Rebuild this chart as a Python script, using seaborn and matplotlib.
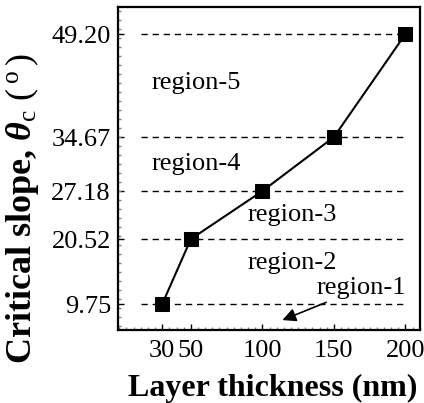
import numpy as np
import pandas as pd
import matplotlib
matplotlib.use("Agg")
import matplotlib.pyplot as plt
import seaborn as sns

# datos
espesor = [30, 50, 100, 150, 200]             # nm
pendiente = [9.75, 20.52, 27.18, 34.67, 49.20]  # grados
regiones = ["region-1", "region-2", "region-3", "region-4", "region-5"]
xticks = [30, 50, 100, 150, 200]

# escala del eje y de la figura original (no es lineal)
y_nodos = [5.45, 9.75, 20.52, 27.18, 34.67, 49.20, 53.0]
y_frac = [0.0, 0.0805, 0.2817, 0.4303, 0.5975, 0.9164, 1.0]


def adelante(v):
    return np.interp(v, y_nodos, y_frac)


def inversa(p):
    return np.interp(p, y_frac, y_nodos)


sns.set_style("ticks")
plt.rcParams["font.family"] = ["Liberation Serif", "DejaVu Serif"]
plt.rcParams["mathtext.fontset"] = "custom"
plt.rcParams["mathtext.rm"] = "Liberation Serif"
plt.rcParams["mathtext.it"] = "Liberation Serif:italic"
plt.rcParams["mathtext.bf"] = "Liberation Serif:bold"
plt.rcParams["mathtext.bfit"] = "Liberation Serif:italic:bold"
for k in ["text.color", "axes.labelcolor", "xtick.color", "ytick.color", "axes.edgecolor"]:
    plt.rcParams[k] = "black"

df = pd.DataFrame({"espesor": espesor, "pendiente": pendiente})

fig = plt.figure(figsize=(4.24, 4.03), dpi=100)
ax = fig.add_axes([0.278, 0.181, 0.712, 0.8015])
ax.set_yscale("function", functions=(adelante, inversa))

# lineas discontinuas de cada region
ax.hlines(pendiente, 15, 200, colors="k", linestyles=(0, (4.5, 3.5)), lw=1.0, zorder=1)

sns.lineplot(data=df, x="espesor", y="pendiente", ax=ax, color="k", lw=1.5,
             marker="s", markersize=10, markeredgecolor="k", zorder=3)

ax.set_xlim(-1, 210)
ax.set_ylim(y_nodos[0], y_nodos[-1])
ax.set_xticks(xticks)
ax.set_xticks(np.arange(0, 211, 5), minor=True)
ax.set_yticks(pendiente)
ax.set_yticklabels([f"{v:.2f}" for v in pendiente])
ax.set_yticks(inversa(np.arange(0.012, 1.0, 0.0279)), minor=True)

ax.tick_params(which="both", direction="in", width=1, labelsize=19, pad=5)
ax.tick_params(axis="x", which="major", pad=7)
ax.tick_params(which="major", length=4)
ax.tick_params(which="minor", length=2, color="0.5")
ax.tick_params(axis="y", which="both", right=False)
for s in ax.spines.values():
    s.set_linewidth(1.6)
    s.set_visible(True)

ax.set_xlabel("Layer thickness (nm)", fontsize=23, fontweight="bold")
ax.xaxis.set_label_coords(0.513, -0.135)
ax.set_ylabel(r"Critical slope, $\boldsymbol{\theta}_{\mathrm{c}}\ (\,^{\mathrm{o}}\,)$",
              fontsize=26, fontweight="bold")
ax.yaxis.set_label_coords(-0.255, 0.375)

# etiquetas de las regiones
ax.text(22.5, 42.3, regiones[4], fontsize=19, va="center")
ax.text(22.5, 31.0, regiones[3], fontsize=19, va="center")
ax.text(89.7, 23.85, regiones[2], fontsize=19, va="center")
ax.text(89.7, 16.5, regiones[1], fontsize=19, va="center")
ax.annotate(regiones[0], xy=(114, 7.1), xytext=(138, 12.4), fontsize=19, va="center",
            arrowprops=dict(arrowstyle="-|>", color="k", lw=1.2, shrinkA=0, shrinkB=0,
                            mutation_scale=20))

fig.savefig("out.png", dpi=100)
